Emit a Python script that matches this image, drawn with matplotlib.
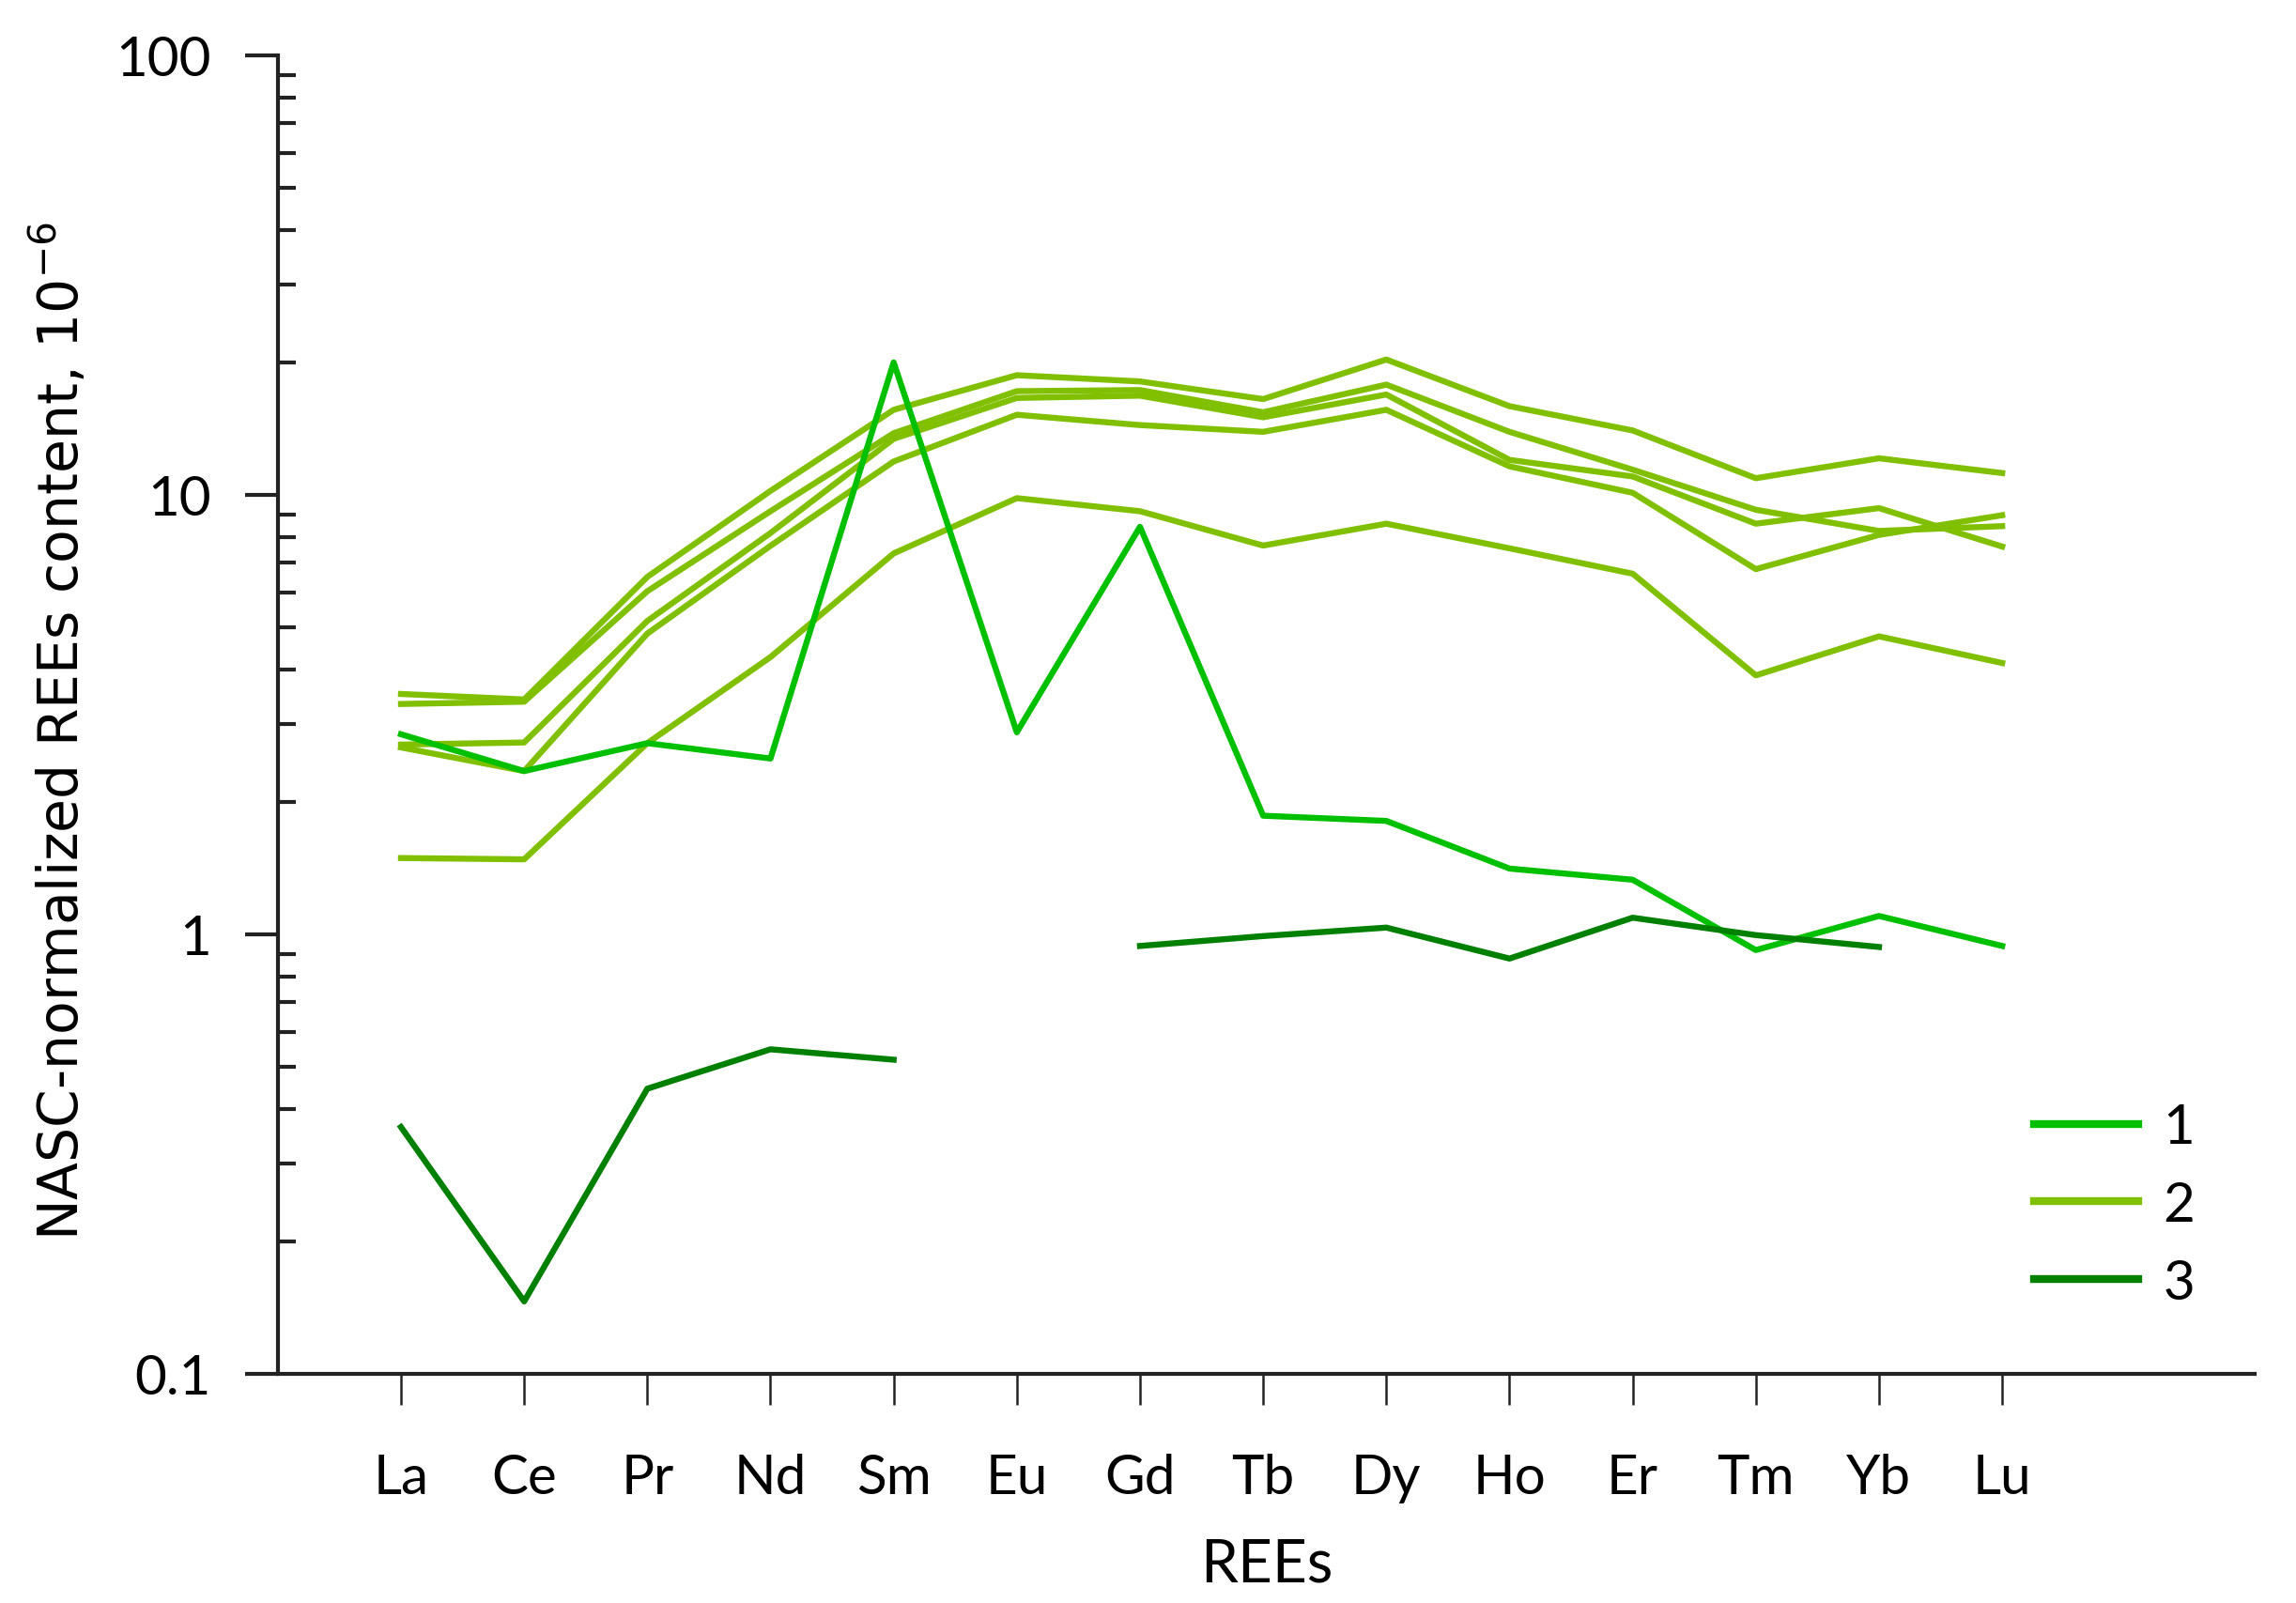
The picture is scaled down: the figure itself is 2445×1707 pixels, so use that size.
import matplotlib
matplotlib.use("Agg")
import matplotlib.pyplot as plt
from matplotlib.font_manager import FontProperties
from matplotlib.ticker import LogLocator, NullFormatter, FixedLocator, FixedFormatter
import numpy as np

# Datos (valores normalizados a NASC)
rees = ["La", "Ce", "Pr", "Nd", "Sm", "Eu", "Gd", "Tb", "Dy", "Ho", "Er", "Tm", "Yb", "Lu"]

grupo1 = [2.85, 2.35, 2.72, 2.51, 20.0, 2.88, 8.45, 1.86, 1.81, 1.41, 1.33, 0.92, 1.10, 0.94]

grupo2_a = [3.52, 3.42, 6.50, 10.2, 15.6, 18.7, 18.1, 16.5, 20.3, 15.9, 14.0, 10.9, 12.1, 11.2]
grupo2_b = [3.34, 3.38, 6.03, 9.17, 13.8, 17.2, 17.3, 15.4, 17.8, 13.9, 11.4, 9.24, 8.27, 8.48]
grupo2_c = [2.70, 2.73, 5.16, 8.18, 13.4, 16.6, 16.8, 15.0, 16.9, 12.0, 11.0, 8.59, 9.32, 7.62]
grupo2_d = [2.66, 2.35, 4.83, 7.65, 11.9, 15.2, 14.4, 13.9, 15.6, 11.6, 10.1, 6.77, 8.10, 8.98]
grupo2_e = [1.49, 1.48, 2.72, 4.27, 7.35, 9.82, 9.17, 7.66, 8.59, 7.55, 6.61, 3.88, 4.76, 4.14]
grupo2 = [grupo2_a, grupo2_b, grupo2_c, grupo2_d, grupo2_e]

grupo3 = [0.364, 0.146, 0.445, 0.547, 0.518, np.nan, 0.94, 0.99, 1.035, 0.88, 1.09, 0.995, 0.935, np.nan]

etiquetas = ["1", "2", "3"]
colores = ["#00c000", "#80c000", "#008000"]
ticks_y = [0.1, 1, 10, 100]
ticks_y_txt = ["0.1", "1", "10", "100"]


def fp(size):
    # fuente parecida a Calibri para numeros y elementos
    return FontProperties(family=["Lato", "DejaVu Sans"], size=size)


fig = plt.figure(figsize=(24.45, 17.08), dpi=100)
ax = fig.add_axes([0.121, 0.143, 0.861, 0.822])

x = np.arange(len(rees))
ax.plot(x, grupo1, color=colores[0], lw=4.6, label=etiquetas[0], zorder=3)
for i, serie in enumerate(grupo2):
    ax.plot(x, serie, color=colores[1], lw=4.6, label=etiquetas[1] if i == 0 else None, zorder=2)
ax.plot(x, grupo3, color=colores[2], lw=4.6, label=etiquetas[2], zorder=4)

ax.set_yscale("log")
ax.set_ylim(0.1, 100)
ax.set_xlim(-1.0, 15.05)

# Ejes
for lado in ["top", "right"]:
    ax.spines[lado].set_visible(False)
for lado in ["left", "bottom"]:
    ax.spines[lado].set_linewidth(3.0)
    ax.spines[lado].set_color("#222222")

ax.yaxis.set_major_locator(FixedLocator(ticks_y))
ax.yaxis.set_major_formatter(FixedFormatter(ticks_y_txt))
ax.yaxis.set_minor_locator(LogLocator(base=10, subs=np.arange(2, 10)))
ax.yaxis.set_minor_formatter(NullFormatter())
ax.tick_params(axis="y", which="major", direction="out", length=25, width=3.0,
               pad=26, color="#222222")
ax.tick_params(axis="y", which="minor", direction="in", length=14, width=3.0, color="#222222")

ax.set_xticks(x)
ax.set_xticklabels(rees)
ax.tick_params(axis="x", which="major", direction="out", length=24, width=1.8,
               pad=37, color="#222222")

for t in ax.get_xticklabels() + ax.get_yticklabels():
    t.set_fontproperties(fp(42))

ax.set_xlabel("REEs", fontproperties=fp(46), labelpad=26)
ax.set_ylabel("NASC-normalized REEs content, 10$^{-6}$", fontsize=42)
ax.yaxis.set_label_coords(-0.095, 0.488)

leg = ax.legend(loc="upper left", bbox_to_anchor=(0.886, 0.312), bbox_transform=fig.transFigure,
                frameon=False, handlelength=1.9, handletextpad=0.45, labelspacing=0.51,
                borderpad=0, borderaxespad=0, prop=fp(42))
for linea in leg.get_lines():
    linea.set_linewidth(6)

fig.savefig("out.png", dpi=100)
